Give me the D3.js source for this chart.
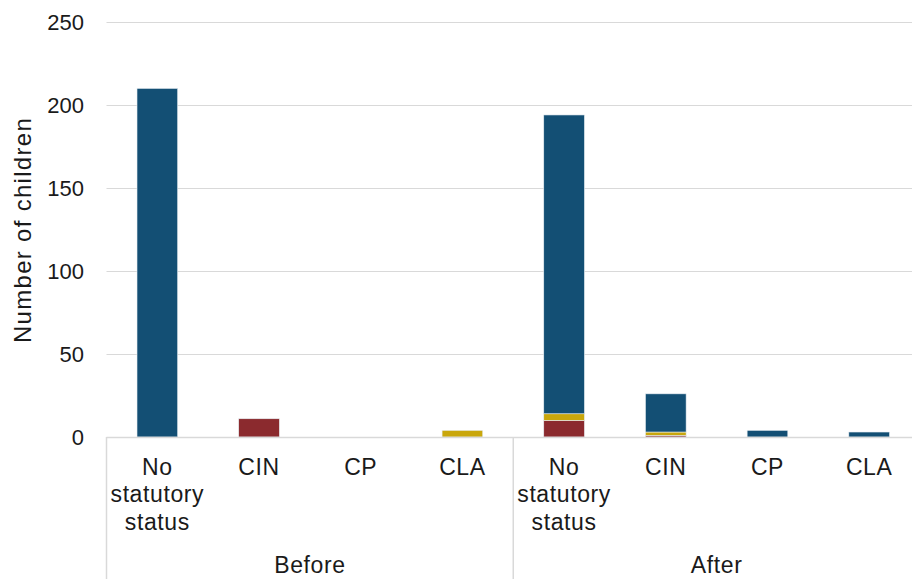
<!DOCTYPE html>
<html>
<head>
<meta charset="utf-8">
<script src="https://cdn.jsdelivr.net/npm/d3@7"></script>
<style>
  html, body { margin: 0; padding: 0; background: #fff; }
  svg { display: block; font-family: "Liberation Sans", Arial, sans-serif; }
</style>
</head>
<body>
<svg id="chart" width="912" height="579"></svg>
<script>
// ---- data ----
const groups = ["Before", "After"];
const statuses = ["No statutory status", "CIN", "CP", "CLA"];
const seriesNames = ["CIN", "CLA", "No statutory status"]; // stack order bottom -> top
const seriesColors = ["#8b2a2e", "#c9a70c", "#134f74"];
// values per category (Before: NSS, CIN, CP, CLA; After: NSS, CIN, CP, CLA)
const cinValues = [0, 11, 0, 0, 10, 1, 0, 0];
const claValues = [0, 0, 0, 4, 4, 2, 0, 0];
const nssValues = [210, 0, 0, 0, 180, 23, 4, 3];
const yTicks = [0, 50, 100, 150, 200, 250];

// ---- build table ----
const cats = [];
groups.forEach(g => statuses.forEach(s => cats.push({ group: g, status: s, key: g + "|" + s })));
const table = cats.map((c, i) => ({
  key: c.key, group: c.group, status: c.status,
  "CIN": cinValues[i], "CLA": claValues[i], "No statutory status": nssValues[i]
}));

const svg = d3.select("#chart");
const W = 912, H = 579;
const x0 = 106.5, x1 = 920, yTop = 22, yBot = 437;

const x = d3.scaleBand().domain(cats.map(c => c.key)).range([x0, x1]).paddingInner(0.6).paddingOuter(0.3);
const y = d3.scaleLinear().domain([0, 250]).range([yBot, yTop]);

svg.append("defs").append("clipPath").attr("id", "clip")
  .append("rect").attr("x", 0).attr("y", 0).attr("width", W).attr("height", H);

const g = svg.append("g").attr("clip-path", "url(#clip)");

// gridlines
g.append("g").selectAll("line").data(yTicks.filter(t => t > 0)).join("line")
  .attr("x1", x0).attr("x2", x1)
  .attr("y1", d => Math.round(y(d)) + 0.5).attr("y2", d => Math.round(y(d)) + 0.5)
  .attr("stroke", "#d9d9d9").attr("stroke-width", 1.2);

// y axis labels
const yAxis = d3.axisLeft(y).tickValues(yTicks).tickSize(0).tickPadding(0);
const ya = svg.append("g").attr("transform", "translate(84,0)").call(yAxis);
ya.select(".domain").remove();
ya.selectAll("text").attr("font-size", 22).attr("fill", "#1a1a1a")
  .attr("font-family", "Liberation Sans, Arial, sans-serif").attr("dy", "0.36em");

// y title
svg.append("text").attr("transform", "translate(31,230) rotate(-90)")
  .attr("text-anchor", "middle").attr("font-size", 24).attr("letter-spacing", 1.3)
  .attr("fill", "#1a1a1a")
  .text("Number of children");

// bars
const stack = d3.stack().keys(seriesNames);
const stacked = stack(table);
g.append("g").selectAll("g").data(stacked).join("g")
  .attr("fill", (d, i) => seriesColors[i])
  .selectAll("rect").data(d => d.filter(p => p[1] - p[0] > 0)).join("rect")
  .attr("x", d => x(d.data.key))
  .attr("width", x.bandwidth())
  .attr("y", d => y(d[1]))
  .attr("height", d => y(d[0]) - y(d[1]))
  .attr("stroke", "#e8eef2").attr("stroke-width", 0.6);

// x axis baseline
const bandStep = x.step();
const catStart = x0, catEnd = x0 + bandStep * cats.length;
g.append("line").attr("x1", catStart).attr("x2", catEnd)
  .attr("y1", yBot + 0.5).attr("y2", yBot + 0.5)
  .attr("stroke", "#d9d9d9").attr("stroke-width", 1.5);

// group separators
const sepX = [0, 4, 8].map(i => catStart + i * bandStep);
g.append("g").selectAll("line").data(sepX).join("line")
  .attr("x1", d => d).attr("x2", d => d)
  .attr("y1", yBot).attr("y2", H)
  .attr("stroke", "#d9d9d9").attr("stroke-width", 1.5);

// category labels
const lab = svg.append("g").selectAll("text").data(cats).join("text")
  .attr("x", d => x(d.key) + x.bandwidth() / 2)
  .attr("y", 475)
  .attr("text-anchor", "middle").attr("font-size", 23).attr("letter-spacing", 0.6)
  .attr("fill", "#1a1a1a");
lab.each(function(d) {
  const words = d.status === "No statutory status" ? ["No", "statutory", "status"] : [d.status];
  const t = d3.select(this);
  words.forEach((w, i) => t.append("tspan").attr("x", t.attr("x")).attr("dy", i === 0 ? 0 : 27.3).text(w));
});

// group labels
svg.append("g").selectAll("text").data(groups).join("text")
  .attr("x", (d, i) => catStart + (i * 4 + 2) * bandStep)
  .attr("y", 573)
  .attr("text-anchor", "middle").attr("font-size", 23).attr("letter-spacing", 0.6)
  .attr("fill", "#1a1a1a")
  .text(d => d);
</script>
</body>
</html>
